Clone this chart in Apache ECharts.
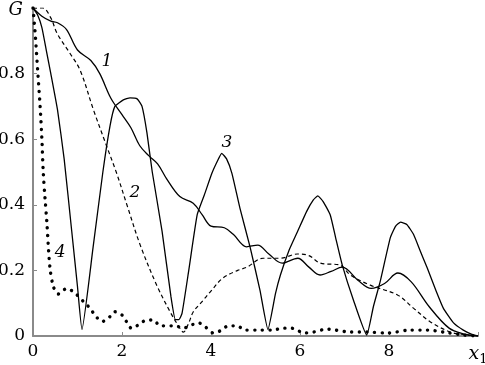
<!DOCTYPE html>
<html><head><meta charset="utf-8">
<script src="https://cdn.jsdelivr.net/npm/echarts@6/dist/echarts.min.js"></script>
<style>html,body{margin:0;padding:0;background:#fff}#c{width:485px;height:365px}</style>
</head><body><div id="c"></div>
<script>
// Curve 1 (solid, wavy)
const x1 = [0, 0.2, 0.4, 0.55, 0.75, 1.0, 1.3, 1.5, 1.75, 2.0, 2.2, 2.4, 2.6, 2.8, 3.0, 3.3, 3.6, 3.8, 4.0, 4.3, 4.5, 4.8, 5.05, 5.3, 5.6, 5.95, 6.2, 6.45, 6.7, 6.95, 7.3, 7.6, 7.9, 8.2, 8.5, 8.9, 9.35, 9.7, 10];
const y1 = [1, 0.975, 0.96, 0.955, 0.935, 0.872, 0.84, 0.80, 0.725, 0.675, 0.635, 0.58, 0.55, 0.525, 0.48, 0.425, 0.405, 0.37, 0.335, 0.33, 0.31, 0.272, 0.277, 0.25, 0.222, 0.237, 0.21, 0.186, 0.197, 0.21, 0.17, 0.145, 0.16, 0.192, 0.165, 0.09, 0.024, 0.006, 0];
// Curve 2 (dashed)
const x2 = [0, 0.22, 0.4, 0.54, 0.83, 1.06, 1.36, 1.66, 1.88, 2.11, 2.41, 2.78, 3.08, 3.25, 3.38, 3.5, 3.6, 3.8, 3.98, 4.27, 4.6, 4.81, 5.17, 5.56, 5.94, 6.2, 6.46, 6.9, 7.13, 7.58, 8.19, 8.55, 8.93, 9.38, 9.7, 10];
const y2 = [1, 1.0, 0.97, 0.923, 0.862, 0.81, 0.689, 0.577, 0.496, 0.40, 0.277, 0.155, 0.074, 0.035, 0.012, 0.04, 0.073, 0.105, 0.134, 0.177, 0.2, 0.21, 0.237, 0.237, 0.25, 0.245, 0.222, 0.216, 0.186, 0.155, 0.125, 0.085, 0.043, 0.012, 0.004, 0];
// Curve 3 (solid, lobes)
const x3 = [0, 0.1, 0.2, 0.3, 0.4, 0.55, 0.7, 0.87, 1.0, 1.1, 1.35, 1.57, 1.73, 1.84, 2.03, 2.18, 2.34, 2.45, 2.56, 2.68, 2.9, 3.1, 3.2, 3.28, 3.35, 3.5, 3.69, 3.85, 4.02, 4.15, 4.24, 4.35, 4.47, 4.65, 4.88, 5.1, 5.28, 5.45, 5.56, 5.75, 5.94, 6.15, 6.3, 6.4, 6.52, 6.68, 6.8, 6.95, 7.2, 7.5, 7.65, 7.8, 8.03, 8.15, 8.26, 8.4, 8.55, 8.7, 8.86, 9.05, 9.22, 9.45, 9.67, 9.85, 10];
const y3 = [1, 0.98, 0.94, 0.87, 0.80, 0.69, 0.54, 0.32, 0.15, 0.02, 0.27, 0.50, 0.64, 0.70, 0.72, 0.726, 0.723, 0.70, 0.62, 0.50, 0.32, 0.12, 0.05, 0.05, 0.07, 0.2, 0.37, 0.43, 0.496, 0.535, 0.557, 0.54, 0.496, 0.39, 0.27, 0.14, 0.02, 0.13, 0.186, 0.26, 0.317, 0.38, 0.415, 0.427, 0.41, 0.369, 0.3, 0.216, 0.11, 0.003, 0.09, 0.165, 0.30, 0.335, 0.347, 0.34, 0.31, 0.26, 0.207, 0.14, 0.085, 0.04, 0.018, 0.006, 0];
// Curve 4 (dotted)
const x4 = [0, 0.05, 0.11, 0.16, 0.2, 0.23, 0.27, 0.31, 0.38, 0.46, 0.57, 0.76, 0.95, 1.17, 1.28, 1.39, 1.55, 1.73, 1.84, 2.0, 2.1, 2.22, 2.37, 2.56, 2.7, 2.86, 3.01, 3.19, 3.38, 3.57, 3.72, 3.87, 4.06, 4.24, 4.39, 4.58, 4.77, 5.1, 5.4, 5.6, 5.8, 5.94, 6.07, 6.3, 6.61, 6.8, 7.13, 7.51, 7.96, 8.48, 8.86, 9.22, 9.67, 10];
const y4 = [1, 0.92, 0.80, 0.70, 0.60, 0.50, 0.42, 0.35, 0.21, 0.15, 0.128, 0.145, 0.13, 0.1, 0.085, 0.064, 0.044, 0.059, 0.074, 0.064, 0.044, 0.023, 0.034, 0.049, 0.049, 0.031, 0.031, 0.031, 0.024, 0.034, 0.04, 0.028, 0.009, 0.018, 0.031, 0.031, 0.018, 0.018, 0.018, 0.024, 0.024, 0.018, 0.009, 0.012, 0.021, 0.018, 0.012, 0.012, 0.009, 0.018, 0.018, 0.012, 0.003, 0];
// Curve annotation labels [text, x, y]
const curveLabels = [["1", 1.66, 0.838], ["2", 2.29, 0.436], ["3", 4.36, 0.591], ["4", 0.61, 0.253]];
const xTicks = [0, 2, 4, 6, 8];
const yTicks = [0, 0.2, 0.4, 0.6, 0.8];

const zip = (xs, ys) => xs.map((v, i) => [v, ys[i]]);
const serif = '"DejaVu Serif", "Liberation Serif", serif';
const chart = echarts.init(document.getElementById('c'));
const axisGrey = '#8a8a8a';
chart.setOption({
  animation: false,
  grid: { left: 33, right: 7, top: 8, bottom: 29, containLabel: false, outerBoundsMode: 'none' },
  xAxis: {
    type: 'value', min: 0, max: 10, interval: 2,
    axisLine: { lineStyle: { color: axisGrey, width: 2 } },
    axisTick: { inside: true, length: 4, lineStyle: { color: axisGrey, width: 1 } },
    splitLine: { show: false },
    axisLabel: {
      margin: 7, color: '#000', fontFamily: serif, fontSize: 17,
      formatter: v => v === 10 ? '{x|x}{s|1}' : (xTicks.includes(v) ? String(v) : ''),
      rich: {
        x: { fontFamily: serif, fontStyle: 'italic', fontSize: 19, color: '#000' },
        s: { fontFamily: serif, fontSize: 13, color: '#000', padding: [10, 0, 0, 0] }
      }
    }
  },
  yAxis: {
    type: 'value', min: 0, max: 1, interval: 0.2,
    axisLine: { show: true, lineStyle: { color: axisGrey, width: 2 } },
    axisTick: { show: true, inside: true, length: 4, lineStyle: { color: axisGrey, width: 1 } },
    splitLine: { show: false },
    axisLabel: {
      margin: 8, color: '#000', fontFamily: serif, fontSize: 17,
      formatter: v => Math.abs(v - 1) < 1e-9 ? '{g|G}' : (yTicks.some(t => Math.abs(t - v) < 1e-9) ? (v === 0 ? '0' : v.toFixed(1)) : ''),
      rich: { g: { fontFamily: serif, fontStyle: 'italic', fontSize: 18, color: '#000', padding: [5, 2, 0, 0] } }
    }
  },
  series: [
    { type: 'line', data: zip(x1, y1), smooth: 0.35, symbol: 'none', lineStyle: { color: '#000', width: 1.3 } },
    { type: 'line', data: zip(x2, y2), smooth: 0.35, symbol: 'none', lineStyle: { color: '#000', width: 1.2, type: [4, 3] } },
    { type: 'line', data: zip(x3, y3), smooth: 0.15, symbol: 'none', lineStyle: { color: '#000', width: 1.3 } },
    { type: 'line', data: zip(x4, y4), smooth: 0.3, symbol: 'none', lineStyle: { color: '#000', width: 3.4, type: [0.1, 7.5], cap: 'round' } }
  ]
});
const labelGraphics = curveLabels.map(([t, x, y]) => {
  const p = chart.convertToPixel({ gridIndex: 0 }, [x, y]);
  return { type: 'text', x: p[0], y: p[1], style: { text: t, fontFamily: serif, fontStyle: 'italic', fontSize: 17, fill: '#000', align: 'center', verticalAlign: 'middle' } };
});
chart.setOption({ graphic: labelGraphics });
</script></body></html>
